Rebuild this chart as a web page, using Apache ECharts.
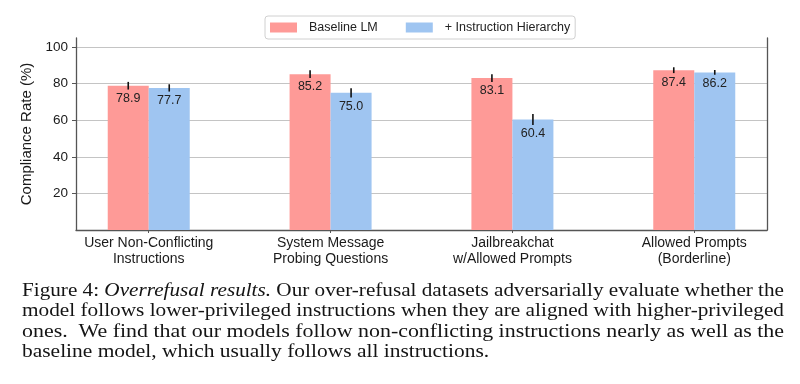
<!DOCTYPE html>
<html>
<head>
<meta charset="utf-8">
<script src="https://cdn.jsdelivr.net/npm/echarts@6/dist/echarts.min.js"></script>
<style>
html,body{margin:0;padding:0;background:#fff;}
#chart{width:800px;height:384px;}
</style>
</head>
<body>
<div id="chart"></div>
<script>
// ---- data ----
const categories = ['User Non-Conflicting\nInstructions', 'System Message\nProbing Questions', 'Jailbreakchat\nw/Allowed Prompts', 'Allowed Prompts\n(Borderline)'];
const seriesNames = ['Baseline LM', '+ Instruction Hierarchy'];
const baselineValues = [78.9, 85.2, 83.1, 87.4];
const hierarchyValues = [77.7, 75.0, 60.4, 86.2];
const baselineErrors = [2.1, 2.1, 2.1, 1.6];
const hierarchyErrors = [2.0, 2.5, 3.0, 1.3];
const yTicks = [20, 40, 60, 80, 100];
const captionLines = [
  [['n', 'Figure 4: '], ['i', 'Overrefusal results.'], ['n', ' Our over-refusal datasets adversarially evaluate whether the']],
  [['n', 'model follows lower-privileged instructions when they are aligned with higher-privileged']],
  [['n', 'ones.  We find that our models follow non-conflicting instructions nearly as well as the']],
  [['n', 'baseline model, which usually follows all instructions.']]
];

// ---- styling ----
const colors = ['#fe9a97', '#9fc5f1'];
const BAR_W = 41;
const sans = '"Liberation Sans", Arial, sans-serif';
const serif = '"Liberation Serif", "Times New Roman", serif';

const chart = echarts.init(document.getElementById('chart'), null, {renderer: 'canvas'});

function barData(vals) { return vals.map((v, i) => [i, v]); }

function errSeries(vals, errs, sideSign, idx) {
  return {
    type: 'custom',
    name: seriesNames[idx] + ' err',
    xAxisIndex: 0, yAxisIndex: 0,
    z: 5,
    silent: true,
    data: vals.map((v, i) => [i, v, errs[i]]),
    renderItem: function (params, api) {
      const x = api.value(0), v = api.value(1), e = api.value(2);
      const top = api.coord([x, v + e]);
      const bot = api.coord([x, v - e]);
      const px = top[0] + sideSign * BAR_W / 2;
      return {
        type: 'group',
        children: [
          {type: 'line', shape: {x1: px, y1: top[1], x2: px, y2: bot[1]}, style: {stroke: '#111', lineWidth: 1.6}},
          {type: 'text', x: px, y: bot[1] + 2.5, style: {text: v.toFixed(1), font: '12.5px ' + sans, fill: '#222', align: 'center', verticalAlign: 'top'}}
        ]
      };
    }
  };
}

// caption graphics with measured horizontal fit
const measCtx = document.createElement('canvas').getContext('2d');
const CAP_SIZE = 18;
function fontFor(k) { return (k === 'i' ? 'italic ' : '') + CAP_SIZE + 'px ' + serif; }
function lineWidth(line) {
  let w = 0;
  line.forEach(([k, t]) => { measCtx.font = fontFor(k); w += measCtx.measureText(t).width; });
  return w;
}
const capLeft = 22, capRight = 784;
const scales = captionLines.map(l => (capRight - capLeft) / lineWidth(l));
const avgScale = (scales[0] + scales[1] + scales[2]) / 3;
const capY = [291, 311.5, 332, 352.5];
const captionGraphics = captionLines.map((line, i) => ({
  type: 'text',
  x: capLeft, y: capY[i],
  scaleX: i < 3 ? scales[i] : avgScale,
  style: {
    text: line.map(([k, t]) => '{' + k + '|' + t + '}').join(''),
    rich: {
      n: {font: fontFor('n'), fill: '#141414'},
      i: {font: fontFor('i'), fill: '#141414'}
    },
    verticalAlign: 'middle'
  }
}));

const option = {
  animation: false,
  backgroundColor: '#fff',
  grid: {left: 76, right: 33, top: 38, bottom: 154, containLabel: false},
  legend: {
    data: seriesNames,
    left: 265, top: 16,
    padding: [5, 5, 5, 5],
    itemWidth: 27, itemHeight: 10, itemGap: 28,
    borderColor: '#d0d0d0', borderWidth: 1, borderRadius: 3,
    textStyle: {fontFamily: sans, fontSize: 12.5, color: '#222', padding: [0, 0, 0, 7]},
    icon: 'rect'
  },
  xAxis: {
    type: 'value',
    min: -0.4, max: 3.4,
    splitLine: {show: false},
    axisLine: {show: true, lineStyle: {color: '#555', width: 1.3}},
    axisTick: {show: true, customValues: [0, 1, 2, 3], length: 3, lineStyle: {color: '#555'}},
    axisLabel: {
      customValues: [0, 1, 2, 3],
      formatter: v => categories[Math.round(v)],
      fontFamily: sans, fontSize: 14, color: '#1a1a1a', lineHeight: 16, margin: 5
    }
  },
  yAxis: [{
    type: 'value',
    min: 0, max: 105,
    splitLine: {show: true, lineStyle: {color: '#c4c4c4', width: 1.2}},
    axisLine: {show: true, onZero: false, lineStyle: {color: '#555', width: 1.3}},
    axisTick: {show: true, customValues: yTicks, length: 4, lineStyle: {color: '#555'}},
    axisLabel: {customValues: yTicks, fontFamily: sans, fontSize: 13.5, color: '#1a1a1a', margin: 8},
    name: 'Compliance Rate (%)',
    nameLocation: 'middle',
    nameGap: 38,
    nameRotate: 90,
    nameTextStyle: {fontFamily: sans, fontSize: 15, color: '#1a1a1a'}
  }, {
    type: 'value', position: 'right',
    min: 0, max: 105,
    splitLine: {show: false},
    axisLine: {show: true, onZero: false, lineStyle: {color: '#555', width: 1.3}},
    axisTick: {show: false}, axisLabel: {show: false}
  }],
  series: [
    {type: 'bar', name: seriesNames[0], data: barData(baselineValues), barWidth: BAR_W, barGap: '0%', itemStyle: {color: colors[0]}},
    {type: 'bar', name: seriesNames[1], data: barData(hierarchyValues), barWidth: BAR_W, barGap: '0%', itemStyle: {color: colors[1]}},
    errSeries(baselineValues, baselineErrors, -1, 0),
    errSeries(hierarchyValues, hierarchyErrors, 1, 1)
  ],
  graphic: captionGraphics
};
chart.setOption(option);
</script>
</body>
</html>
